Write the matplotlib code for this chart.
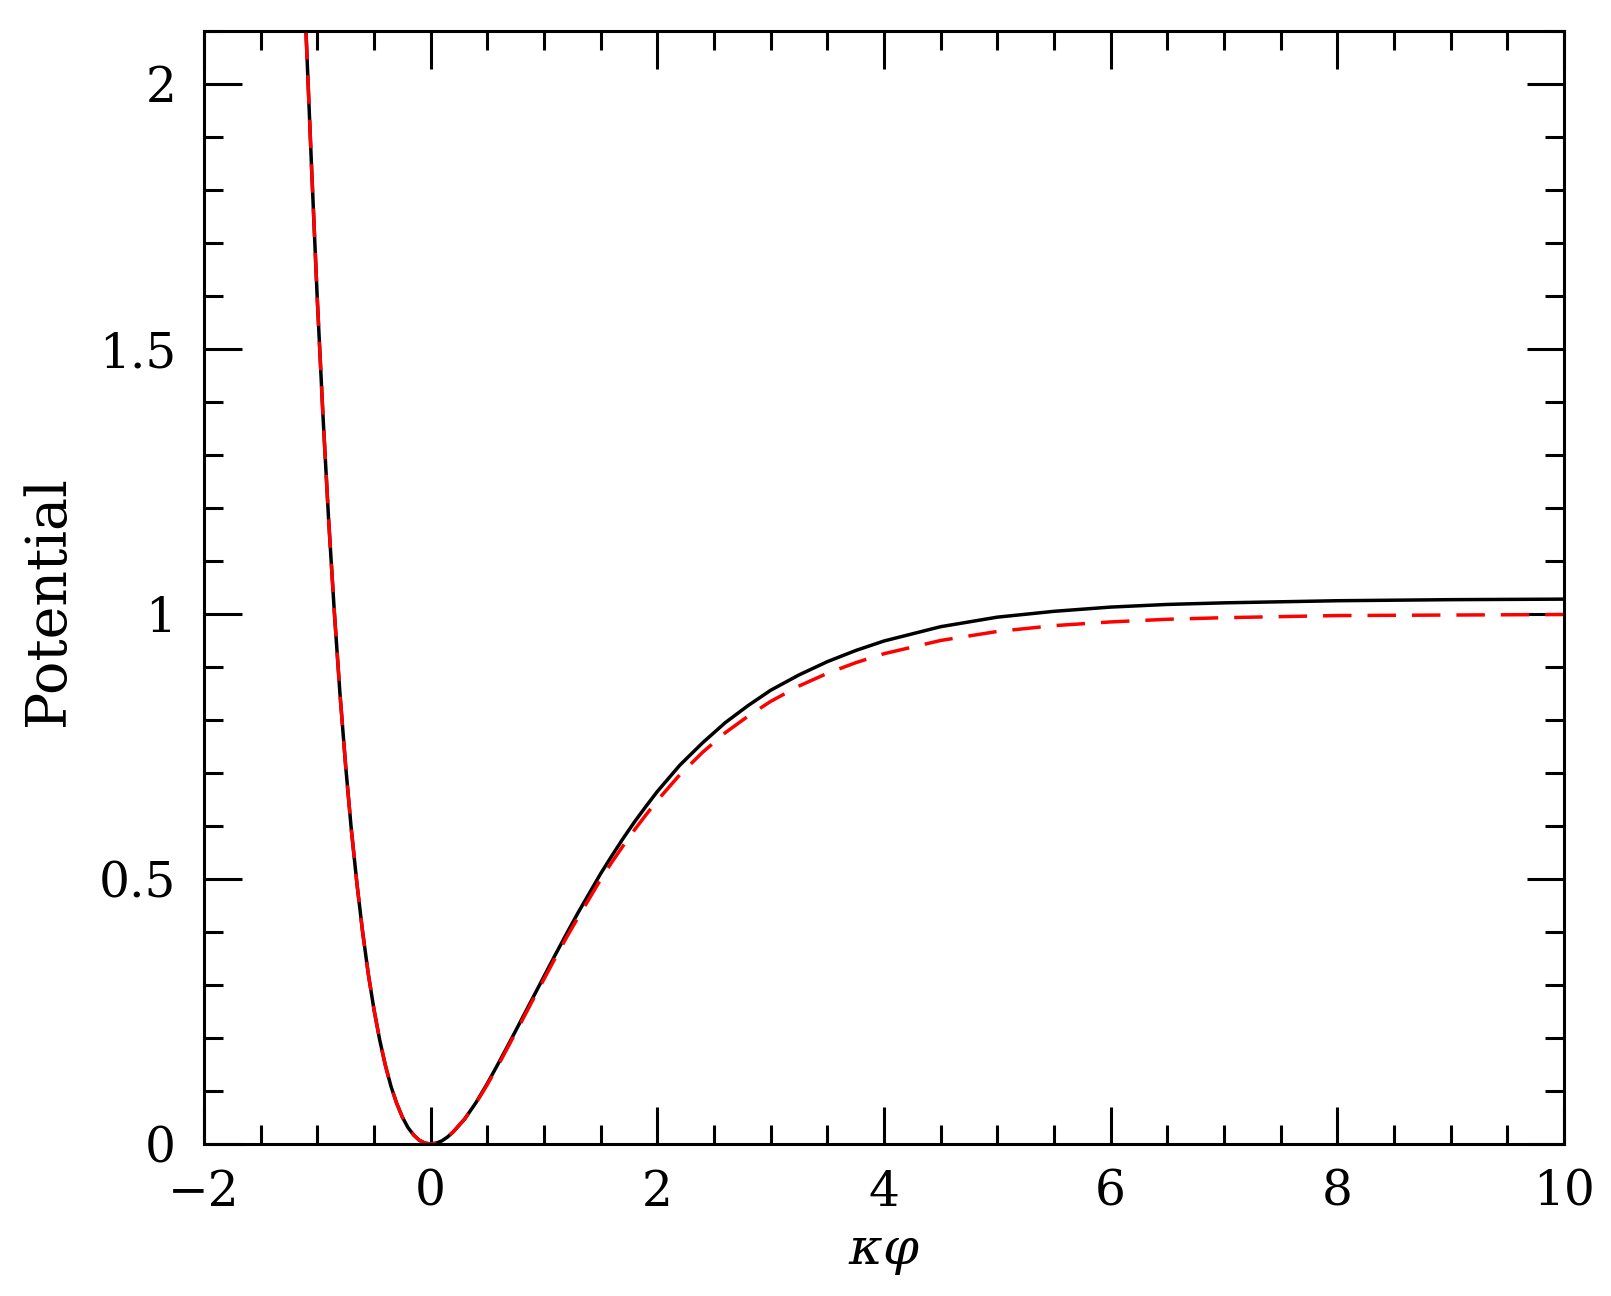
import numpy as np
import matplotlib
matplotlib.use('Agg')
import matplotlib.pyplot as plt

# Werte aus dem Bild abgelesen
# linker Ast (beide Kurven praktisch identisch)
x_left = [-1.1, -1.05, -1.0, -0.95, -0.9, -0.85, -0.8, -0.75, -0.7, -0.65, -0.6,
          -0.55, -0.5, -0.45, -0.4, -0.35, -0.3, -0.25, -0.2, -0.15, -0.1, -0.05, 0.0]
y_left = [2.10, 1.84, 1.594, 1.375, 1.178, 1.005, 0.850, 0.714, 0.594, 0.491, 0.400,
          0.321, 0.254, 0.197, 0.149, 0.109, 0.077, 0.051, 0.031, 0.017, 0.007, 0.0017, 0.0]

x_right = [0.05, 0.1, 0.15, 0.2, 0.3, 0.4, 0.5, 0.6, 0.7, 0.8, 0.9, 1.0, 1.1, 1.2, 1.3,
           1.4, 1.5, 1.6, 1.7, 1.8, 1.9, 2.0, 2.2, 2.4, 2.6, 2.8, 3.0, 3.25, 3.5, 3.75,
           4.0, 4.5, 5.0, 5.5, 6.0, 6.5, 7.0, 8.0, 9.0, 10.0]
# gestrichelte Kurve (rot)
y_red = [0.0016, 0.006, 0.0133, 0.023, 0.047, 0.077, 0.112, 0.150, 0.190, 0.230, 0.271,
         0.311, 0.351, 0.390, 0.427, 0.463, 0.499, 0.532, 0.563, 0.593, 0.621, 0.648,
         0.697, 0.739, 0.776, 0.807, 0.835, 0.864, 0.888, 0.908, 0.925, 0.950, 0.967,
         0.978, 0.985, 0.990, 0.993, 0.997, 0.998, 0.999]
# durchgezogene Kurve (schwarz)
y_black = [0.0016, 0.006, 0.0133, 0.023, 0.047, 0.078, 0.114, 0.153, 0.193, 0.234, 0.275,
           0.316, 0.357, 0.397, 0.436, 0.473, 0.510, 0.544, 0.577, 0.608, 0.637, 0.665,
           0.715, 0.757, 0.795, 0.827, 0.856, 0.885, 0.910, 0.931, 0.949, 0.976, 0.994,
           1.005, 1.013, 1.018, 1.021, 1.025, 1.027, 1.028]

x_all = x_left + x_right
y_red_all = y_left + y_red
y_black_all = y_left + y_black

plt.rcParams['font.family'] = ['DejaVu Serif']
plt.rcParams['mathtext.fontset'] = 'dejavuserif'

fig = plt.figure(figsize=(16.11, 12.96), dpi=100)
ax = fig.add_axes([0.1266, 0.1173, 0.8442, 0.8588])

ax.plot(x_all, y_black_all, color='black', lw=2.5)
ax.plot(x_all, y_red_all, color='red', lw=2.5, dashes=(8.2, 4.6))

ax.set_xlim(-2, 10)
ax.set_ylim(0, 2.1)
ax.set_xticks([-2, 0, 2, 4, 6, 8, 10])
ax.set_xticklabels(['\u22122', '0', '2', '4', '6', '8', '10'])
ax.set_xticks(np.arange(-2, 10.01, 0.5), minor=True)
ax.set_yticks([0, 0.5, 1, 1.5, 2])
ax.set_yticklabels(['0', '0.5', '1', '1.5', '2'])
ax.set_yticks(np.arange(0, 2.101, 0.1), minor=True)

ax.tick_params(which='both', direction='in', top=True, right=True, width=2.2, labelsize=35)
ax.tick_params(which='major', length=27)
ax.tick_params(which='minor', length=14)
ax.tick_params(axis='x', pad=18)
ax.tick_params(axis='y', pad=20)
for s in ax.spines.values():
    s.set_linewidth(2.2)

ax.set_xlabel(r'$\kappa\varphi$', fontsize=37, labelpad=8)
ax.set_ylabel('Potential', fontsize=40)
ax.yaxis.set_label_coords(-0.094, 0.488)

fig.savefig('out.png', dpi=100)
